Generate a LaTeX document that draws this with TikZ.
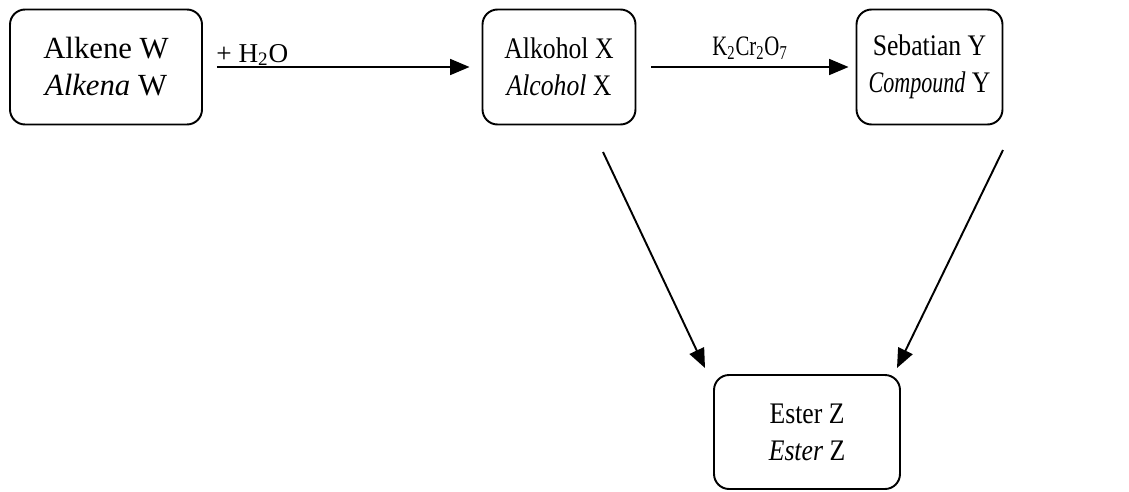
\documentclass[tikz,border=0pt]{standalone}
\usepackage{fontspec}
\setmainfont{Liberation Serif}
\newfontfamily\narrowrm[FakeStretch=0.86]{Liberation Serif}
\newfontfamily\narrowerrm[FakeStretch=0.74]{Liberation Serif}
\usetikzlibrary{arrows.meta}
\tikzset{
  box/.style={draw,line width=1.1pt,rounded corners=0.3cm,align=center,
    font=\fontsize{17.5}{21}\selectfont,minimum height=2.3cm,inner sep=0pt},
  nbox/.style={box,font=\narrowrm\fontsize{17}{21}\selectfont},
  arr/.style={line width=1.1pt,-{Triangle[length=11pt,width=9pt]}},
  lbl/.style={font=\fontsize{15.5}{19}\selectfont,inner sep=0pt}
}
\begin{document}
\begin{tikzpicture}[x=0.02cm,y=-0.02cm]
  \useasboundingbox (0,0) rectangle (1129,491);
  % boxes
  \node[box,minimum width=3.84cm] (W) at (106,67) {Alkene W\\\textit{Alkena} W};
  \node[nbox,minimum width=3.06cm] (X) at (559,67) {Alkohol X\\\textit{Alcohol} X};
  \node[nbox,minimum width=2.92cm] (Y) at (929.5,67) {Sebatian Y\\{\narrowerrm\itshape Compound} Y};
  \node[nbox,minimum width=3.72cm,minimum height=2.28cm] (Z) at (807,432) {Ester Z\\\textit{Ester} Z};
  % reagents
  \node[lbl,anchor=base west] (h2o) at (216,62) {+ H\textsubscript{2}O};
  \node[lbl,font=\narrowerrm\fontsize{16}{19}\selectfont,anchor=base] (kcr) at (750,55)
    {K\textsubscript{2}Cr\textsubscript{2}O\textsubscript{7}};
  % arrow ends
  \coordinate (xo) at (603,152);
  \coordinate (zl) at (705,368);
  \coordinate (yo) at (1003,150);
  \coordinate (zr) at (897,368);
  \draw[arr,shorten <=0.28cm,shorten >=0.24cm] (W) -- (X);
  \draw[arr,shorten <=0.3cm,shorten >=0.14cm] (X) -- (Y);
  \draw[arr] (xo) -- (zl);
  \draw[arr] (yo) -- (zr);
\end{tikzpicture}
\end{document}
